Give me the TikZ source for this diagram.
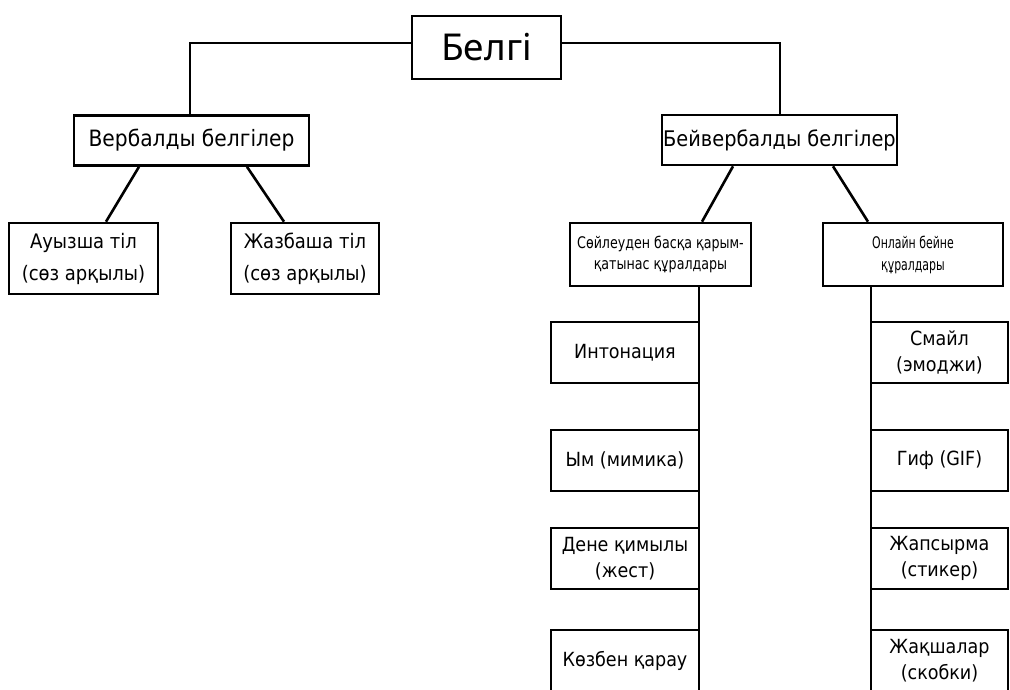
\documentclass[tikz,border=0pt]{standalone}
\usepackage{fontspec}
\setmainfont{DejaVu Sans Condensed}
\newfontfamily\titlefont{Noto Sans}
\newfontfamily\narrowfont[FakeStretch=0.88]{DejaVu Sans Condensed}
\newfontfamily\narrowerfont[FakeStretch=0.76]{DejaVu Sans Condensed}
\begin{document}
\begin{tikzpicture}[x=1pt,y=-1pt,
  box/.style={draw=black,line width=2.6pt,fill=white,inner sep=0pt,align=center},
  conn/.style={draw=black,line width=2.6pt},
  tconn/.style={draw=black,line width=2pt},
  lvltwo/.style={box,minimum height=50pt},
  lvlthree/.style={box,font=\fontsize{20}{32}\selectfont,minimum height=71pt},
  sub/.style={box,minimum height=63pt},
  item/.style={box,font=\fontsize{19.5}{26}\selectfont,minimum height=61pt}]
\path[use as bounding box] (0,0) rectangle (1010,689);
\clip (0,0) rectangle (1010,689);
\fill[white] (0,0) rectangle (1010,689);

\node[box,font=\titlefont\fontsize{37}{44}\selectfont,minimum width=149pt,minimum height=63pt] (root) at (486.5,47.5) {Белгі};

\node[lvltwo,font=\fontsize{22.5}{28}\selectfont,minimum width=235pt] (verb) at (191.5,140.5) {Вербалды белгілер};
\node[lvltwo,font=\fontsize{21.5}{28}\selectfont,minimum width=235pt] (nonverb) at (779.5,140) {Бейвербалды белгілер};

\node[lvlthree,minimum width=149pt] (oral) at (83.5,258.5) {Ауызша тіл\\(сөз арқылы)};
\node[lvlthree,minimum width=148pt] (written) at (305,258.5) {Жазбаша тіл\\(сөз арқылы)};

\node[sub,font=\narrowfont\fontsize{16}{21}\selectfont,minimum width=181pt] (speech) at (660.5,254.5) {Сөйлеуден басқа қарым-\\қатынас құралдары};
\node[sub,font=\narrowerfont\fontsize{16}{22}\selectfont,minimum width=180pt] (online) at (913,254.5) {Онлайн бейне\\құралдары};

\coordinate (lend) at (699,700);
\coordinate (rend) at (871,700);
\draw[conn] ([xshift=38.5pt]speech.south) -- (lend);
\draw[conn] ([xshift=-42pt]online.south) -- (rend);

\node[item,minimum width=148pt] (l1) at (625,352.5) {Интонация};
\node[item,minimum width=148pt] (l2) at (625,460.5) {Ым (мимика)};
\node[item,minimum width=148pt] (l3) at (625,558.5) {Дене қимылы\\(жест)};
\node[item,minimum width=148pt] (l4) at (625,660.5) {Көзбен қарау};

\node[item,minimum width=137pt] (r1) at (939.5,352.5) {Смайл\\(эмоджи)};
\node[item,minimum width=137pt] (r2) at (939.5,460.5) {Гиф (GIF)};
\node[item,minimum width=137pt] (r3) at (939.5,558.5) {Жапсырма\\(стикер)};
\node[item,minimum width=137pt] (r4) at (939.5,660.5) {Жақшалар\\(скобки)};

\draw[tconn] ([yshift=4.5pt]root.west) -| ([xshift=-1.5pt]verb.north);
\draw[tconn] ([yshift=4.5pt]root.east) -| (nonverb.north);

\draw[conn] ([xshift=-52.5pt]verb.south) -- ([xshift=22.5pt]oral.north);
\draw[conn] ([xshift=55.5pt]verb.south) -- ([xshift=-21pt]written.north);
\draw[conn] ([xshift=-46.5pt]nonverb.south) -- ([xshift=41.5pt]speech.north);
\draw[conn] ([xshift=53.5pt]nonverb.south) -- ([xshift=-45pt]online.north);
\end{tikzpicture}
\end{document}
